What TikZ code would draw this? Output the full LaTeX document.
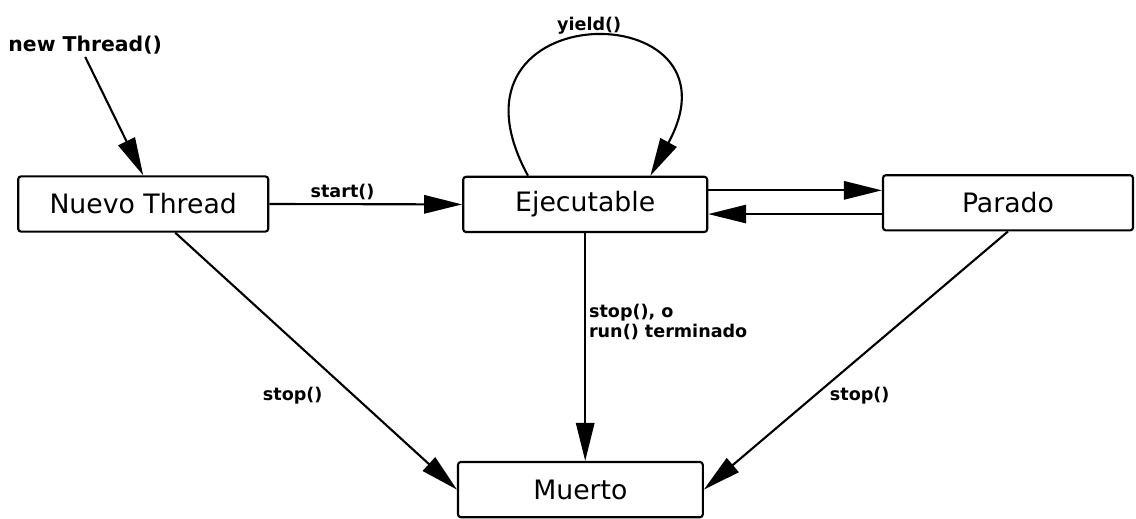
\documentclass[tikz,border=0pt]{standalone}
\usepackage{fontspec}
\setmainfont{DejaVu Sans}
\usepackage{tikz}
\usetikzlibrary{arrows.meta, positioning, calc}
\tikzstyle{state} = [rectangle, rounded corners=2pt, minimum width=6.2cm, minimum height=1.38cm, text centered, draw=black, line width=1.5pt, font=\fontsize{19}{22}\selectfont]
\tikzstyle{lbl} = [font=\bfseries\fontsize{12.5}{14.5}\selectfont, inner sep=2pt]
\tikzstyle{trans} = [line width=1.5pt, -{Triangle[length=27pt, width=13pt]}]

\begin{document}
\begin{tikzpicture}
    \useasboundingbox (0, 0) rectangle (28.4, 12.95);

    % States
    \node[state, minimum width=6.25cm] (nuevo) at (3.58, 7.85) {Nuevo Thread};
    \node[state, minimum width=6.1cm] (ejec) at (14.63, 7.84) {Ejecutable};
    \node[state, minimum width=6.25cm] (parado) at (25.2, 7.88) {Parado};
    \node[state, minimum width=6.12cm] (muerto) at (14.51, 0.71) {Muerto};

    % Creation label
    \node[lbl, font=\bfseries\fontsize{14.5}{16}\selectfont] (creacion) at (2.13, 11.83) {new Thread()};

    % Transitions
    \draw[trans] (creacion.south) -- (nuevo.north);
    \draw[trans] (nuevo.east) -- node[lbl, above, pos=0.38] {start()} (ejec.west);
    \draw[trans] ([yshift=10pt]ejec.east) -- ([yshift=10pt]ejec.east -| parado.west);
    \draw[trans] ([yshift=-8pt]parado.west) -- ([yshift=-8pt]parado.west -| ejec.east);
    \draw[trans] ($(ejec.north)+(-1.43,0)$) .. controls ($(ejec.north)+(-3.93,4.58)$) and ($(ejec.north)+(4.13,4.58)$) ..
        node[lbl, above, pos=0.5] {yield()} ($(ejec.north)+(1.63,0)$);
    \draw[trans] (ejec.south) -- node[lbl, right, pos=0.39, align=left] {stop(), o\\run() terminado} (ejec.south |- muerto.north);
    \draw[trans] ($(nuevo.south)+(0.8,0)$) -- node[lbl, left=0.7cm, pos=0.636] {stop()} (muerto.west);
    \draw[trans] (parado.south) -- node[lbl, right=0.28cm, pos=0.635] {stop()} (muerto.east);
\end{tikzpicture}
\end{document}
